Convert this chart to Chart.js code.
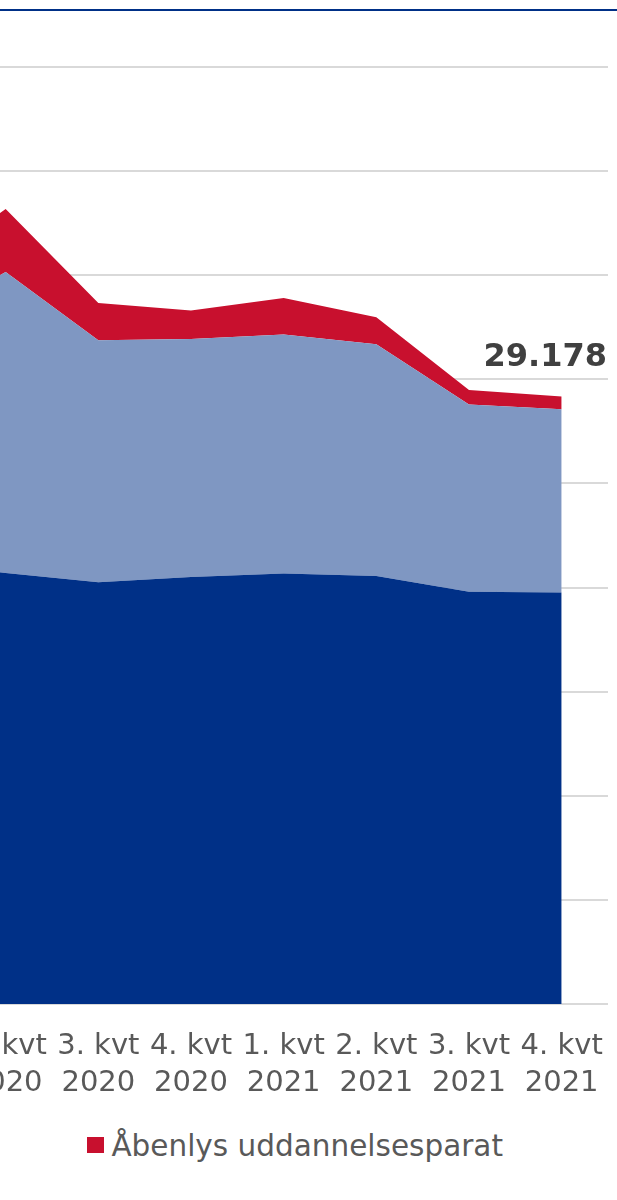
<!DOCTYPE html>
<html lang="da">
<head>
<meta charset="utf-8">
<title>Uddannelseshjælp fordelt på visitationskategori</title>
<script src="https://cdn.jsdelivr.net/npm/chart.js@4.4.1/dist/chart.umd.min.js"></script>
<style>
  html, body { margin: 0; padding: 0; background: #fff; }
  body { width: 617px; height: 1200px; overflow: hidden; position: relative; font-family: 'DejaVu Sans', Verdana, sans-serif; }
  .topline { position: absolute; left: 0; top: 9px; width: 617px; height: 2px; background: #003087; }
  /* the chart is wider than the window: y axis and first quarter sit off to the left */
  .chart-wrap { position: absolute; left: -300px; top: 0; width: 928px; height: 1104px; }
  #legend { position: absolute; right: 114px; top: 1128px; display: flex; white-space: nowrap; font-size: 29.5px; line-height: 37px; color: #595959; }
  #legend .item { margin-left: 100px; }
  #legend .box { display: inline-block; width: 17px; height: 16px; margin-right: 7px; vertical-align: 3px; }
</style>
</head>
<body>
<div class="topline"></div>
<div class="chart-wrap"><canvas id="chart"></canvas></div>
<div id="legend"></div>
<script>
// quarters
const categories = [
    ['1. kvt', '2020'], ['2. kvt', '2020'], ['3. kvt', '2020'], ['4. kvt', '2020'],
    ['1. kvt', '2021'], ['2. kvt', '2021'], ['3. kvt', '2021'], ['4. kvt', '2021']
];

// persons per group (stacked bottom -> top)
const aktivitetsparat  = [21230, 20700, 20250, 20510, 20670, 20560, 19800, 19760];
const uddannelsesparat = [11480, 14460, 11630, 11430, 11480, 11130, 8990, 8800];
const aabenlys         = [2300, 3020, 1780, 1360, 1760, 1290, 700, 618];

const seriesNames  = ['Aktivitetsparat', 'Uddannelsesparat', 'Åbenlys uddannelsesparat'];
const seriesColors = ['#003087', '#7f97c2', '#c8102e'];

// y axis ticks
const yMax = 45000;
const yStep = 5000;

const FONT = "'DejaVu Sans', Verdana, sans-serif";
const fmt = v => String(v).replace(/\B(?=(\d{3})+(?!\d))/g, '.');

Chart.defaults.font.family = FONT;

// total of the last quarter above the stack
const totalLabel = {
    id: 'totalLabel',
    afterDatasetsDraw(chart) {
        const sets = chart.data.datasets;
        const meta = chart.getDatasetMeta(sets.length - 1);
        const i = meta.data.length - 1;
        const pt = meta.data[i];
        const total = sets.reduce((s, d) => s + d.data[i], 0);
        const ctx = chart.ctx;
        const text = fmt(total);
        ctx.save();
        ctx.font = 'bold 32px ' + FONT;
        ctx.fillStyle = '#404040';
        ctx.textBaseline = 'alphabetic';
        ctx.textAlign = 'right';
        const w = ctx.measureText(text).width;
        const x = Math.min(pt.x + w / 2, chart.chartArea.right - 1);
        ctx.fillText(text, x, pt.y - 30);
        ctx.restore();
    }
};

const values = [aktivitetsparat, uddannelsesparat, aabenlys];

const chart = new Chart(document.getElementById('chart'), {
    type: 'line',
    data: {
        labels: categories,
        datasets: values.map((v, i) => ({
            label: seriesNames[i],
            data: v,
            fill: i === 0 ? 'origin' : '-1',
            backgroundColor: seriesColors[i],
            borderColor: 'rgba(0,0,0,0)',
            borderWidth: 0,
            pointRadius: 0,
            tension: 0
        }))
    },
    options: {
        responsive: true,
        maintainAspectRatio: false,
        animation: false,
        layout: { padding: { top: 67, right: 20, bottom: 0, left: 0 } },
        scales: {
            x: {
                offset: true,
                grid: { display: false },
                border: { display: false },
                ticks: {
                    color: '#595959',
                    font: { size: 29, lineHeight: 37 / 29 },
                    padding: 16,
                    maxRotation: 0,
                    minRotation: 0,
                    autoSkip: false
                },
                afterFit: s => { s.height = 100; }
            },
            y: {
                stacked: true,
                min: 0,
                max: yMax,
                grid: { color: '#d9d9d9', lineWidth: 2, drawTicks: false },
                border: { display: false },
                ticks: {
                    stepSize: yStep,
                    color: '#595959',
                    font: { size: 29 },
                    padding: 12,
                    callback: v => fmt(v)
                },
                afterFit: s => { s.width = 166.67; }
            }
        },
        plugins: {
            legend: { display: false },
            tooltip: { enabled: false }
        }
    },
    plugins: [totalLabel]
});

// legend
const legend = document.getElementById('legend');
chart.data.datasets.forEach(d => {
    const item = document.createElement('span');
    item.className = 'item';
    item.innerHTML = `<span class="box" style="background:${d.backgroundColor}"></span>${d.label}`;
    legend.appendChild(item);
});
</script>
</body>
</html>
